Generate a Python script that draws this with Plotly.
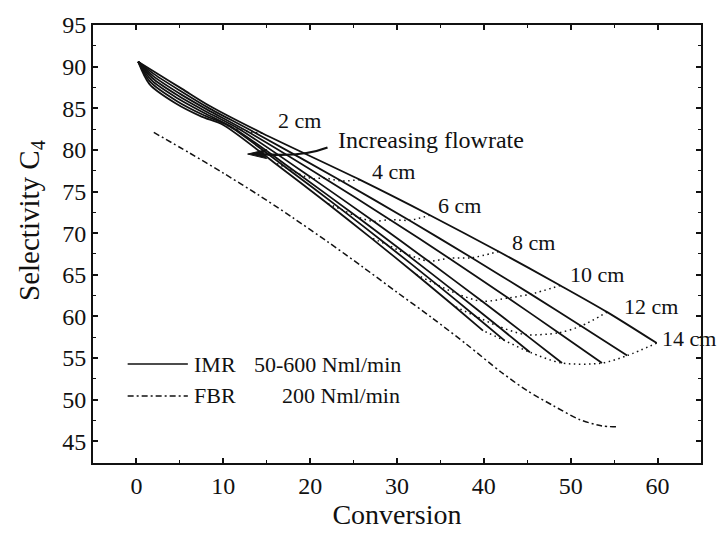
import plotly.graph_objects as go

# Membrane reactor (IMR): one solid curve per feed flowrate (lowest flowrate first).
# Each row: three points on the approach from the inlet, then samples at 2..14 cm.
# Dotted curves join the samples taken at equal reactor length.
lengths_cm = [2, 4, 6, 8, 10, 12, 14]
start_point = (0.2, 90.6)

imr_conversion = [
    [2.20, 5.30, 8.40, 14.5, 25.7, 33.8, 41.7, 48.8, 54.2, 59.9],
    [2.08, 5.17, 8.25, 13.6, 23.6, 31.4, 38.6, 45.4, 51.2, 56.5],
    [1.97, 5.03, 8.10, 12.8, 21.6, 29.2, 36.0, 42.8, 48.6, 53.6],
    [1.85, 4.90, 7.95, 12.0, 20.3, 27.3, 33.6, 39.8, 44.8, 49.0],
    [1.73, 4.77, 7.80, 11.2, 18.6, 25.4, 31.0, 37.0, 41.6, 45.3],
    [1.62, 4.63, 7.65, 10.6, 17.2, 23.6, 28.8, 34.6, 39.0, 42.4],
    [1.50, 4.50, 7.50, 10.0, 15.8, 22.0, 27.0, 32.2, 36.6, 39.9],
]
imr_selectivity = [
    [89.30, 87.30, 85.30, 82.0, 76.43, 72.16, 67.80, 63.72, 60.52, 56.8],
    [89.07, 87.02, 85.08, 82.1, 76.27, 71.55, 67.05, 62.68, 58.86, 55.3],
    [88.83, 86.73, 84.87, 82.2, 76.63, 71.62, 66.99, 62.22, 58.04, 54.4],
    [88.60, 86.45, 84.65, 82.4, 76.55, 71.42, 66.65, 61.82, 57.82, 54.4],
    [88.37, 86.17, 84.43, 82.6, 77.16, 71.97, 67.55, 62.68, 58.85, 55.7],
    [88.13, 85.88, 84.22, 82.9, 77.89, 72.86, 68.65, 63.82, 60.06, 57.1],
    [87.90, 85.60, 84.00, 83.0, 78.52, 73.56, 69.44, 65.04, 61.22, 58.3],
]
n_early = 3  # points before the 2 cm sample on each curve

# Fixed-bed reactor (FBR) at 200 Nml/min
fbr_conversion = [2.0, 6.0, 10.0, 14.0, 18.0, 22.0, 26.0, 30.0, 34.0, 38.0,
                  42.0, 45.0, 48.0, 51.0, 53.5, 55.5]
fbr_selectivity = [82.1, 79.7, 77.22, 74.62, 71.86, 68.98, 65.98, 62.9, 59.86, 56.66,
                   53.3, 51.08, 49.28, 47.63, 46.87, 46.73]

length_labels = ["2 cm", "4 cm", "6 cm", "8 cm", "10 cm", "12 cm", "14 cm"]
label_pos = [(16.1, 83.5), (26.9, 77.4), (34.5, 73.3), (43.0, 68.9),
             (49.7, 65.0), (55.9, 61.2), (60.3, 57.3)]

FONT = "Liberation Serif, Times New Roman, serif"
INK = "#111111"
DASHDOT = "6px,3px,2px,3px"

fig = go.Figure()

# solid IMR curves
for xs, ys in zip(imr_conversion, imr_selectivity):
    fig.add_trace(go.Scatter(
        x=[start_point[0]] + xs, y=[start_point[1]] + ys,
        mode="lines", line=dict(color=INK, width=1.8, shape="spline", smoothing=0.8),
        showlegend=False, hoverinfo="skip"))

# dotted iso-length curves
for j in range(len(lengths_cm)):
    xs = [row[n_early + j] for row in imr_conversion]
    ys = [row[n_early + j] for row in imr_selectivity]
    fig.add_trace(go.Scatter(
        x=xs, y=ys, mode="lines",
        line=dict(color=INK, width=1.5, dash="1.5px,3.5px", shape="spline", smoothing=0.8),
        showlegend=False, hoverinfo="skip"))

# FBR dash-dot curve
fig.add_trace(go.Scatter(
    x=fbr_conversion, y=fbr_selectivity, mode="lines",
    line=dict(color=INK, width=1.5, dash=DASHDOT, shape="spline", smoothing=0.8),
    showlegend=False, hoverinfo="skip"))

annotations = []
for txt, (lx, ly) in zip(length_labels, label_pos):
    annotations.append(dict(x=lx, y=ly, text=txt, showarrow=False, xanchor="left",
                            yanchor="middle", font=dict(family=FONT, size=22, color=INK)))
annotations.append(dict(x=23.0, y=81.2, text="Increasing flowrate", showarrow=False,
                        xanchor="left", yanchor="middle",
                        font=dict(family=FONT, size=24, color=INK)))

# y-axis title, set a little above the axis middle
annotations.append(dict(x=-0.101, y=0.554, xref="paper", yref="paper",
                        text="Selectivity C<sub>4</sub>", textangle=-90,
                        showarrow=False, xanchor="center", yanchor="middle",
                        font=dict(family=FONT, size=29, color=INK)))

# in-plot legend
shapes = []
legend_rows = [("IMR", "50-600 Nml/min", "solid", 0.226, 0.261),
               ("FBR", "200 Nml/min", DASHDOT, 0.153, 0.307)]
for name, desc, dash, yp, xdesc in legend_rows:
    shapes.append(dict(type="line", xref="paper", yref="paper", x0=0.057, x1=0.156,
                       y0=yp, y1=yp, line=dict(color=INK, width=1.7, dash=dash)))
    annotations.append(dict(x=0.163, y=yp, xref="paper", yref="paper", text=name,
                            showarrow=False, xanchor="left", yanchor="middle",
                            font=dict(family=FONT, size=22, color=INK)))
    annotations.append(dict(x=xdesc, y=yp, xref="paper", yref="paper", text=desc,
                            showarrow=False, xanchor="left", yanchor="middle",
                            font=dict(family=FONT, size=22, color=INK)))

# curved flowrate arrow: shaft and a slender filled head
shapes.append(dict(type="path", xref="x", yref="y",
                   path="M 14.4,79.5 Q 19.0,79.1 22.0,80.3",
                   line=dict(color=INK, width=2.2)))
shapes.append(dict(type="path", xref="x", yref="y",
                   xsizemode="pixel", ysizemode="pixel", xanchor=12.8, yanchor=79.5,
                   path="M 0,0 L 19,4.5 L 15,0 L 19,-4.5 Z",
                   fillcolor=INK, line=dict(color=INK, width=1)))

axis_common = dict(
    showline=True, linecolor=INK, linewidth=1.8, mirror="ticks",
    ticks="inside", ticklen=5, tickwidth=1.6, tickcolor=INK,
    showgrid=False, zeroline=False,
    tickfont=dict(family=FONT, size=24, color=INK),
)

fig.update_layout(
    width=717, height=534,
    margin=dict(l=93, r=16, t=23, b=67),
    paper_bgcolor="white", plot_bgcolor="white",
    xaxis=dict(range=[-5, 65], dtick=10, tick0=0,
               minor=dict(dtick=5, ticks="inside", ticklen=3, tickwidth=1.4, tickcolor=INK),
               title=dict(text="Conversion", font=dict(family=FONT, size=28, color=INK),
                          standoff=4),
               **axis_common),
    yaxis=dict(range=[42.4, 95], dtick=5, tick0=45,
               minor=dict(dtick=2.5, ticks="inside", ticklen=3, tickwidth=1.4, tickcolor=INK),
               **axis_common),
    shapes=shapes,
    annotations=annotations,
)

fig.write_html("out.html")
